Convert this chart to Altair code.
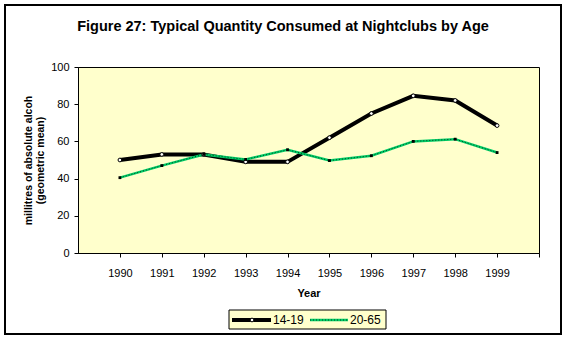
import altair as alt
import pandas as pd

# ---- data ----
years = list(range(1990, 2000))
teen = [50, 53, 53, 49, 49, 62, 75, 84.5, 82, 68.5]
adult = [40.5, 47, 53, 50.3, 55.5, 49.7, 52.3, 60, 61.2, 54]
series = ["14-19", "20-65"]
title_text = "Figure 27: Typical Quantity Consumed at Nightclubs by Age"
y_title = ["millitres of absolute alcoh", "(geometric mean)"]
x_title = "Year"
x_ticks = list(range(1990, 2001))
y_ticks = [0, 20, 40, 60, 80, 100]

df = pd.DataFrame({
    "Year": years * 2,
    "value": teen + adult,
    "series": [series[0]] * len(years) + [series[1]] * len(years),
})

FONT = "Liberation Sans"
GREEN = "#00CC66"
BG = "#FFFFCC"

x = alt.X(
    "Year:Q",
    scale=alt.Scale(domain=[1989, 2000], nice=False, zero=False),
    axis=alt.Axis(
        values=x_ticks, format="d",
        labelExpr="datum.value >= 2000 ? '' : datum.label",
        title=x_title, titleFont=FONT, titleFontSize=11, titleFontWeight="bold",
        titlePadding=9, labelPadding=10,
    ),
)
y = alt.Y(
    "value:Q",
    scale=alt.Scale(domain=[0, 100], nice=False),
    axis=alt.Axis(
        values=y_ticks, title=y_title, titleFont=FONT, titleFontSize=10.5,
        titleFontWeight="bold", titlePadding=5, titleLineHeight=12, labelPadding=5,
    ),
)

base = alt.Chart(df)

lines = base.mark_line().encode(
    x=x, y=y,
    color=alt.Color("series:N", scale=alt.Scale(domain=series, range=["black", GREEN]), legend=None),
    strokeWidth=alt.StrokeWidth("series:N", scale=alt.Scale(domain=series, range=[4, 2.5]), legend=None),
)

dots = base.transform_filter(alt.datum.series == series[1]).mark_line(
    color="black", strokeDash=[1, 2], strokeWidth=1, opacity=0.7
).encode(x=x, y=y)

teen_pts = base.transform_filter(alt.datum.series == series[0]).mark_point(
    shape="circle", filled=True, fill="white", stroke="black", strokeWidth=1, size=14, opacity=1
).encode(x=x, y=y)

adult_pts = base.transform_filter(alt.datum.series == series[1]).mark_square(
    size=8, color="black", opacity=1
).encode(x=x, y=y)

one = alt.Data(values=[{}])

# chart title
title = alt.Chart(one).mark_text(
    text=title_text, align="center", baseline="alphabetic", font=FONT,
    fontSize=14.5, fontWeight="bold", color="black",
).encode(x=alt.value(205), y=alt.value(-36))

# outer chart frame
frame = alt.Chart(one).mark_rect(fill=None, stroke="black", strokeWidth=2).encode(
    x=alt.value(-73), x2=alt.value(483), y=alt.value(-62), y2=alt.value(267)
)

# legend (drawn by hand, Excel style)
leg_box = alt.Chart(one).mark_rect(fill=BG, stroke="black", strokeWidth=1).encode(
    x=alt.value(151), x2=alt.value(308), y=alt.value(243), y2=alt.value(262)
)
leg_l1 = alt.Chart(one).mark_rule(color="black", strokeWidth=4).encode(
    x=alt.value(154), x2=alt.value(193), y=alt.value(253)
)
leg_p1 = alt.Chart(one).mark_point(
    shape="circle", filled=True, fill="white", stroke="black", strokeWidth=1, size=14, opacity=1
).encode(x=alt.value(174), y=alt.value(253))
leg_l2 = alt.Chart(one).mark_rule(color=GREEN, strokeWidth=2.5).encode(
    x=alt.value(232), x2=alt.value(270), y=alt.value(253)
)
leg_l2d = alt.Chart(one).mark_rule(color="black", strokeWidth=1, strokeDash=[1, 2], opacity=0.7).encode(
    x=alt.value(232), x2=alt.value(270), y=alt.value(253)
)
leg_t1 = alt.Chart(one).mark_text(
    text=series[0], align="left", baseline="middle", font=FONT, fontSize=12, color="black"
).encode(x=alt.value(195), y=alt.value(253))
leg_t2 = alt.Chart(one).mark_text(
    text=series[1], align="left", baseline="middle", font=FONT, fontSize=12, color="black"
).encode(x=alt.value(272), y=alt.value(253))

chart = alt.layer(
    frame, title, lines, dots, teen_pts, adult_pts,
    leg_box, leg_l1, leg_p1, leg_l2, leg_l2d, leg_t1, leg_t2,
).properties(
    width=461, height=186,
    autosize=alt.AutoSizeParams(type="none"),
    padding={"left": 78, "top": 67, "right": 27, "bottom": 87},
    background="white",
).configure_view(
    fill=BG, stroke="black", strokeWidth=1
).configure_axis(
    domainColor="black", tickColor="black", tickSize=4, grid=False,
    labelFont=FONT, labelFontSize=11, labelColor="black", titleColor="black",
)

chart.save("out.html", embed_options={"renderer": "svg", "actions": False})
